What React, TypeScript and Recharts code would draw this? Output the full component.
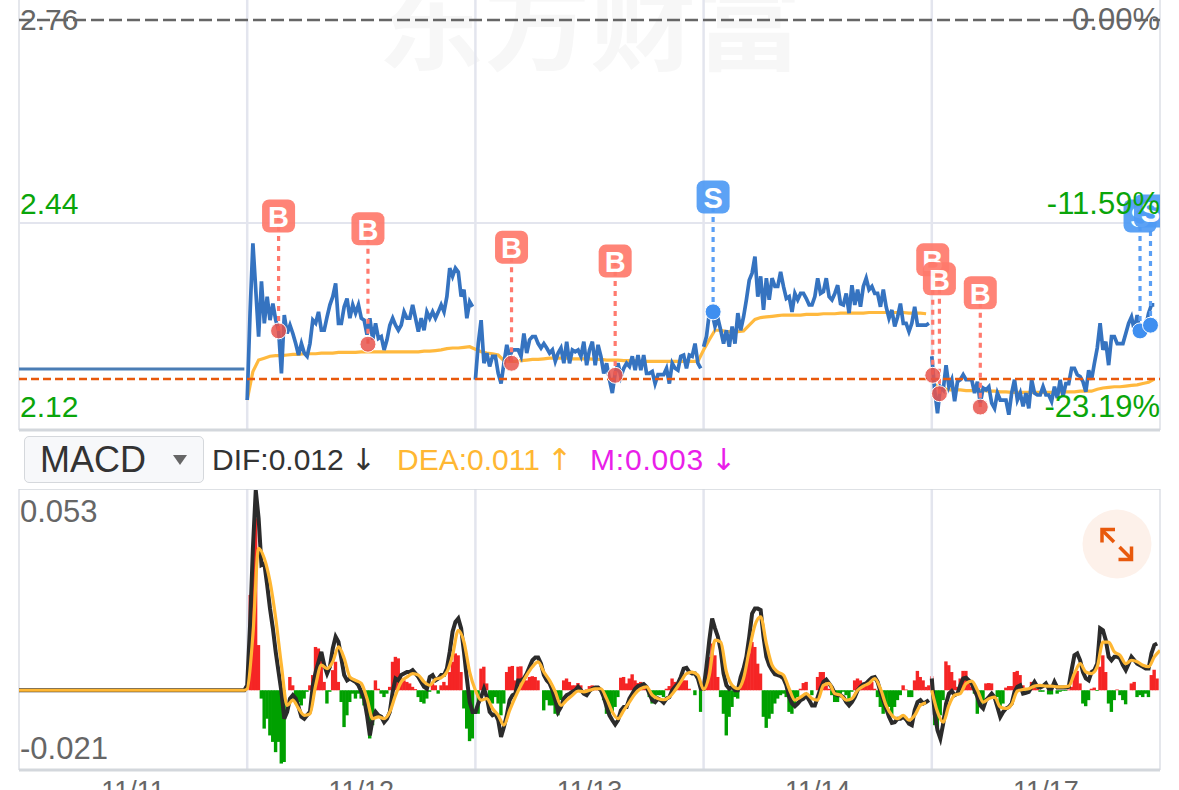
import {
  Bar,
  ComposedChart,
  Line,
  ReferenceLine,
  Scatter,
  XAxis,
  YAxis,
} from 'recharts';

const FONT = '"Liberation Sans", Arial, sans-serif';
const DAY_MINUTES = 240;

const dayLabels = ['11/11', '11/12', '11/13', '11/14', '11/17'];
const dayBreaks = [240, 480, 720, 960];
const dayCenters = [120, 360, 600, 840, 1080];

const priceTicks = [2.76, 2.44, 2.12];
const percentLabels = ['0.00%', '-11.59%', '-23.19%'];
const macdTicks = [0.053, -0.021];
const PREV_CLOSE = 2.194;
const FLAT_DAY_PRICE = 2.21;

// 3 minute samples, one list per trading day
const price1112 = [
  2.161, 2.298, 2.408, 2.335, 2.261, 2.348, 2.282, 2.324, 2.287, 2.313,
  2.287, 2.271, 2.203, 2.295, 2.266, 2.279, 2.266, 2.25, 2.232, 2.25,
  2.235, 2.23, 2.25, 2.287, 2.282, 2.3, 2.271, 2.271, 2.292, 2.311,
  2.324, 2.345, 2.282, 2.282, 2.308, 2.321, 2.29, 2.311, 2.298, 2.311,
  2.29, 2.287, 2.264, 2.29, 2.256, 2.282, 2.258, 2.261, 2.24, 2.256,
  2.279, 2.29, 2.279, 2.271, 2.279, 2.3, 2.29, 2.29, 2.311, 2.29,
  2.269, 2.29, 2.271, 2.3, 2.29, 2.3, 2.29, 2.3, 2.311, 2.3,
  2.324, 2.369, 2.356, 2.369, 2.363, 2.324, 2.335, 2.29, 2.316, 2.308,
];
const price1113 = [
  2.193, 2.25, 2.287, 2.219, 2.235, 2.214, 2.23, 2.23, 2.203, 2.187,
  2.219, 2.248, 2.23, 2.24, 2.24, 2.24, 2.23, 2.266, 2.235, 2.256,
  2.261, 2.261, 2.25, 2.243, 2.25, 2.243, 2.235, 2.24, 2.222, 2.235,
  2.243, 2.219, 2.253, 2.219, 2.24, 2.237, 2.24, 2.23, 2.253, 2.216,
  2.24, 2.253, 2.216, 2.248, 2.23, 2.203, 2.219, 2.193, 2.172, 2.203,
  2.219, 2.198, 2.211, 2.219, 2.214, 2.23, 2.208, 2.232, 2.208, 2.232,
  2.203, 2.203, 2.206, 2.187, 2.201, 2.201, 2.201, 2.211, 2.187, 2.219,
  2.211, 2.208, 2.23, 2.232, 2.211, 2.232, 2.23, 2.25, 2.219, 2.211,
];
const price1114 = [
  2.245, 2.261, 2.298, 2.298, 2.277, 2.29, 2.271, 2.25, 2.271, 2.245,
  2.277, 2.25, 2.298, 2.271, 2.292, 2.319, 2.35, 2.361, 2.387, 2.324,
  2.356, 2.303, 2.353, 2.319, 2.353, 2.34, 2.34, 2.363, 2.34, 2.321,
  2.324, 2.3, 2.329, 2.319, 2.329, 2.329, 2.321, 2.311, 2.311, 2.324,
  2.353, 2.329, 2.332, 2.353, 2.324, 2.319, 2.329, 2.342, 2.313, 2.311,
  2.329, 2.298, 2.342, 2.311, 2.335, 2.308, 2.34, 2.353, 2.335, 2.34,
  2.329, 2.329, 2.308, 2.335, 2.308, 2.29, 2.303, 2.277, 2.292, 2.313,
  2.282, 2.282, 2.269, 2.282, 2.308, 2.279, 2.279, 2.279, 2.279, 2.282,
];
const price1117 = [
  2.23, 2.177, 2.14, 2.182, 2.177, 2.216, 2.182, 2.193, 2.159, 2.19,
  2.193, 2.201, 2.193, 2.193, 2.193, 2.172, 2.19, 2.156, 2.18, 2.177,
  2.182, 2.156, 2.148, 2.172, 2.161, 2.161, 2.161, 2.138, 2.172, 2.193,
  2.161, 2.172, 2.151, 2.172, 2.148, 2.193, 2.172, 2.169, 2.169, 2.182,
  2.169, 2.169, 2.159, 2.182, 2.164, 2.193, 2.167, 2.187, 2.187, 2.211,
  2.211, 2.201, 2.198, 2.19, 2.174, 2.208, 2.193, 2.219, 2.243, 2.282,
  2.24, 2.253, 2.216, 2.261, 2.261, 2.25, 2.25, 2.25, 2.266, 2.282,
  2.292, 2.271, 2.295, 2.266, 2.269, 2.277, 2.298, 2.311, 2.311,
];

// 6 minute samples
const avg1112 = [
  2.161, 2.206, 2.224, 2.227, 2.23, 2.231, 2.231, 2.232, 2.233, 2.233,
  2.234, 2.234, 2.234, 2.235, 2.235, 2.235, 2.236, 2.236, 2.236, 2.236,
  2.237, 2.237, 2.237, 2.237, 2.237, 2.237, 2.237, 2.237, 2.237, 2.237,
  2.237, 2.238, 2.238, 2.239, 2.24, 2.242, 2.243, 2.243, 2.244, 2.245,
];
const avg1113 = [
  2.241, 2.237, 2.235, 2.234, 2.232, 2.223, 2.222, 2.222, 2.223, 2.224,
  2.225, 2.225, 2.226, 2.227, 2.227, 2.227, 2.227, 2.226, 2.226, 2.226,
  2.226, 2.225, 2.225, 2.224, 2.224, 2.224, 2.223, 2.223, 2.223, 2.222,
  2.222, 2.222, 2.222, 2.222, 2.222, 2.222, 2.222, 2.222, 2.222, 2.222,
];
const avg1114 = [
  2.24, 2.256, 2.271, 2.271, 2.269, 2.269, 2.269, 2.27, 2.279, 2.288,
  2.291, 2.292, 2.293, 2.294, 2.295, 2.295, 2.295, 2.295, 2.296, 2.296,
  2.296, 2.297, 2.297, 2.297, 2.298, 2.298, 2.298, 2.298, 2.298, 2.299,
  2.299, 2.299, 2.299, 2.299, 2.299, 2.299, 2.298, 2.298, 2.298, 2.297,
];
const avg1117 = [
  2.19, 2.182, 2.179, 2.177, 2.177, 2.177, 2.176, 2.176, 2.176, 2.176,
  2.175, 2.175, 2.174, 2.174, 2.173, 2.173, 2.173, 2.173, 2.173, 2.173,
  2.173, 2.173, 2.174, 2.174, 2.174, 2.174, 2.175, 2.175, 2.175, 2.178,
  2.18, 2.181, 2.182, 2.182, 2.183, 2.184, 2.185, 2.187, 2.189, 2.194,
];

const dif1112 = [
  0.0013, 0.0171, 0.0374, 0.0527, 0.0453, 0.033, 0.0334, 0.0277, 0.0215, 0.0163,
  0.0101, 0.0048, -0.0004, -0.0075, -0.0057, -0.0022, -0.0013, -0.0022, -0.0044, -0.007,
  -0.0075, -0.0066, -0.0057, 0.0013, 0.0048, 0.0075, 0.0101, 0.0066, 0.0044, 0.0062,
  0.011, 0.0141, 0.0127, 0.0084, 0.004, 0.0026, 0.0031, 0.0026, 0.0022, 0.0013,
  -0.0004, -0.0022, -0.0066, -0.0119, -0.0075, -0.0057, -0.0066, -0.007, -0.0084, -0.0075,
  -0.0057, -0.0004, 0.0031, 0.0026, 0.004, 0.0044, 0.0048, 0.0048, 0.0053, 0.0044,
  0.0035, 0.0022, 0.0009, 0.0004, 0.0035, 0.004, 0.0026, 0.0031, 0.004, 0.004,
  0.0057, 0.0101, 0.0154, 0.018, 0.0189, 0.0163, 0.0101, 0.0031, -0.0031, -0.0057,
];
const dif1113 = [
  -0.0057, -0.0035, -0.0018, 0.0004, -0.0018, -0.0057, -0.0066, -0.0062, -0.0079, -0.0123,
  -0.0097, -0.0066, -0.0026, -0.0013, -0.0009, 0.0026, 0.0026, 0.0031, 0.0044, 0.0062,
  0.0079, 0.0086, 0.0086, 0.007, 0.004, 0.0026, 0.0018, 0, -0.0026, -0.0057,
  -0.0044, -0.0022, -0.0013, -0.0009, -0.0004, 0, 0.0009, 0, -0.0009, -0.0013,
  -0.0002, 0.0004, 0.0007, 0.0007, 0, -0.0018, -0.0044, -0.0066, -0.0079, -0.009,
  -0.0079, -0.0053, -0.0044, -0.0044, -0.0022, -0.0009, 0.0004, 0.0011, 0.0013, 0.0016,
  0.0009, -0.0009, -0.0026, -0.0031, -0.0022, -0.0026, -0.0033, -0.0022, -0.0018, 0,
  0.0009, 0.0018, 0.0035, 0.0057, 0.0059, 0.0048, 0.0044, 0.0044, 0.0031, 0.0004,
];
const dif1114 = [
  0.0004, 0.0062, 0.0132, 0.0189, 0.0163, 0.0141, 0.0105, 0.0044, 0.0013, 0.0004,
  0.0009, 0, 0, 0.0035, 0.0057, 0.0088, 0.0141, 0.0202, 0.0215, 0.0215,
  0.0211, 0.0141, 0.0088, 0.0066, 0.0053, 0.0042, 0.004, 0.0037, 0.0031, 0.0013,
  -0.0018, -0.0035, -0.0042, -0.0035, -0.0026, -0.0022, -0.0013, -0.0026, -0.004, -0.004,
  -0.0018, 0.0004, 0.0022, 0.0028, 0.0018, 0.0007, -0.0009, -0.0013, -0.0013, -0.0018,
  -0.0031, -0.004, -0.0031, -0.0018, 0, 0.0009, 0.0016, 0.0018, 0.0026, 0.0033,
  0.0035, 0.0022, -0.0004, -0.0026, -0.0048, -0.007, -0.0086, -0.0084, -0.0075, -0.0075,
  -0.007, -0.0077, -0.0088, -0.0092, -0.0053, -0.0031, -0.0026, -0.0035, -0.0031, -0.0026,
];
const dif1117 = [
  0.0031, -0.0062, -0.0105, -0.0127, -0.0088, -0.0035, -0.0009, -0.0002, -0.0013, -0.0009,
  0.0013, 0.0031, 0.0033, 0.0026, 0.0018, 0, -0.0018, -0.004, -0.0048, -0.0026,
  -0.0018, -0.0009, -0.0018, -0.0044, -0.007, -0.0057, -0.0048, -0.0044, -0.0035, -0.0004,
  0.0009, 0.0013, -0.0009, -0.0007, -0.0004, 0.0009, 0.0022, 0.0009, 0.0007, 0.0011,
  0.0018, 0.0004, 0.0004, 0.0022, 0.0007, 0.0007, 0.0007, 0.0007, 0.0009, 0.0053,
  0.0092, 0.0097, 0.0079, 0.0048, 0.0031, 0.0026, 0.0048, 0.0053, 0.007, 0.0163,
  0.0158, 0.0132, 0.0088, 0.0079, 0.0088, 0.0088, 0.0084, 0.0066, 0.0053, 0.007,
  0.0088, 0.0079, 0.007, 0.0066, 0.0062, 0.0057, 0.0057, 0.0097, 0.0119, 0.0123,
];

// 6 minute samples
const dea1112 = [
  0.0004, 0.0145, 0.0374, 0.0347, 0.0286, 0.0189, 0.0066, -0.004, -0.0026, -0.0048,
  -0.0066, -0.0062, 0.0013, 0.0066, 0.0057, 0.0075, 0.0114, 0.0084, 0.0035, 0.0026,
  0.0018, -0.0022, -0.0075, -0.007, -0.0075, -0.0057, -0.0013, 0.0022, 0.0035, 0.0044,
  0.004, 0.0022, 0.0013, 0.0029, 0.0033, 0.0048, 0.0092, 0.0158, 0.0127, 0.0048,
];
const dea1113 = [
  0, -0.0026, -0.0022, -0.0048, -0.0066, -0.0092, -0.0053, -0.0018, 0.0013, 0.004,
  0.0062, 0.0075, 0.0048, 0.0026, -0.0004, -0.004, -0.0026, -0.0013, -0.0002, -0.0004,
  0, 0.0004, 0.0004, -0.0022, -0.0057, -0.0075, -0.0053, -0.0031, -0.0009, 0.0004,
  0.0009, -0.0013, -0.0022, -0.0025, -0.0018, 0, 0.0022, 0.0044, 0.0048, 0.004,
];
const dea1114 = [
  0.0002, 0.004, 0.0132, 0.0127, 0.0048, 0.0013, 0.0004, 0.0031, 0.0105, 0.0171,
  0.0193, 0.0123, 0.0066, 0.0048, 0.004, 0.0004, -0.0026, -0.0018, -0.0009, -0.0022,
  -0.0026, 0.0013, 0.0018, -0.0009, -0.0013, -0.0026, -0.0022, 0, 0.0011, 0.0018,
  0.0031, 0.0004, -0.004, -0.0066, -0.0075, -0.0066, -0.0079, -0.0066, -0.004, -0.0033,
];
const dea1117 = [
  0, -0.0057, -0.0084, -0.004, -0.0013, -0.0009, 0.0018, 0.0024, 0, -0.0031,
  -0.0022, -0.0018, -0.0044, -0.0048, -0.0037, -0.0002, 0.0002, 0.0004, 0.0011, 0.0013,
  0.0011, 0.0011, 0.0009, 0.0009, 0.0011, 0.0044, 0.007, 0.0048, 0.0044, 0.0062,
  0.0127, 0.0127, 0.0101, 0.0092, 0.007, 0.0079, 0.0075, 0.0066, 0.0062, 0.0088, 0.0105,
];

const m1112 = [
  0, 0.0251, 0.0365, 0.0453, 0.0119, -0.0022, -0.0101, -0.0075, -0.0119, -0.0136,
  -0.0163, -0.0136, -0.0193, -0.0189, 0, 0.0035, 0.0013, -0.0022, -0.0031, -0.004,
  -0.0022, -0.0004, 0.0013, 0.004, 0.0114, 0.011, 0.0084, 0.0022, -0.0035, -0.0004,
  0.0053, 0.0075, 0.0022, -0.0031, -0.0097, -0.0066, -0.0031, -0.0009, -0.0022, -0.0009,
  -0.0022, -0.004, -0.0066, -0.0127, -0.0092, 0.0026, 0.0004, -0.0009, -0.0018, -0.0009,
  0.0009, 0.0075, 0.0088, 0.0084, 0.0031, 0.0026, 0.0022, 0.0018, 0.0009, 0.0003,
  -0.0018, -0.0031, -0.0035, -0.0022, -0.0004, 0.0018, 0.0013, -0.0009, 0.0013, 0.0022,
  0.0013, 0.0048, 0.0075, 0.0097, 0.0092, 0.0048, -0.0048, -0.0101, -0.0134, -0.0127,
];
const m1113 = [
  -0.0062, -0.0062, 0.0057, 0.0062, 0.0018, -0.0044, -0.0035, -0.0018, -0.0035, -0.0066,
  -0.0035, 0.0048, 0.0062, 0.0064, 0.0026, 0.0062, 0.0063, 0.0026, 0.0026, 0.0035,
  0.0037, 0.0035, 0.0026, 0, -0.0053, -0.0026, -0.004, -0.004, -0.0062, -0.0066,
  -0.0026, 0.0026, 0.0031, 0.0022, 0.0013, 0.0013, 0.0019, 0.0013, 0, 0.0002,
  0.0011, 0.0013, 0.0011, 0.0011, 0, -0.0026, -0.0062, -0.0062, -0.0057, -0.0044,
  -0.0018, 0.0033, 0.0035, 0.0018, 0.0031, 0.0042, 0.0026, 0.0019, 0.0022, 0.0018,
  0.0004, -0.0018, -0.0035, -0.0022, -0.0013, -0.0013, -0.0018, 0.0004, 0.0011, 0.0031,
  0.0022, 0.0018, 0.0026, 0.0026, 0.0026, 0.0004, 0, -0.0013, 0, -0.0057,
];
const m1114 = [
  0, 0.007, 0.0088, 0.0123, 0.0092, 0.0035, -0.0018, -0.0062, -0.0119, -0.007,
  -0.0044, -0.0018, -0.0022, 0.0018, 0.004, 0.007, 0.0097, 0.0127, 0.0114, 0.007,
  0.0044, -0.007, -0.0099, -0.0075, -0.0062, -0.0035, -0.0022, -0.0013, -0.0009, -0.0018,
  -0.0057, -0.0062, -0.0044, -0.0018, 0.0004, 0.0019, 0.0022, 0, -0.0013, 0,
  0.0035, 0.0048, 0.0048, 0.0013, 0.0004, -0.0013, -0.0031, -0.0031, -0.0009, -0.0004,
  -0.0013, -0.0035, -0.0004, 0.0026, 0.0031, 0.0026, 0.0018, 0.0013, 0.0018, 0.0022,
  0.0004, -0.0018, -0.0044, -0.0062, -0.0044, -0.0044, -0.0066, -0.0044, -0.0026, -0.0013,
  0.0013, 0.0002, -0.0018, -0.0018, 0.0026, 0.0051, 0.0035, 0.0026, 0.0009, 0.0013,
];
const m1117 = [
  0.0037, -0.0092, -0.0097, -0.0066, -0.0026, 0.0076, 0.0066, 0.0048, 0.0026, 0.0009,
  0.0031, 0.0051, 0.0051, 0.0026, 0.0009, -0.0009, -0.0062, -0.0044, -0.0035, 0.0018,
  0.0019, 0.0018, 0, -0.0018, -0.0044, -0.0035, 0.0007, 0.0011, 0.0011, 0.0048,
  0.0051, 0.004, 0.0013, -0.0002, 0.0004, 0.0022, 0.0013, 0.0004, -0.0004, -0.0004,
  0, -0.0011, -0.0011, 0, -0.0009, -0.0004, -0.0002, -0.0002, 0.0002, 0.0009,
  0.0044, 0.0051, 0.0018, -0.0035, -0.0042, -0.0026, 0.0004, 0.0007, -0.0002, 0.0062,
  0.0092, 0.0048, -0.0035, -0.0057, -0.0026, 0.0002, -0.0013, -0.0026, -0.0037, 0,
  0.0018, 0.0022, -0.0018, -0.0013, -0.0018, -0.0009, -0.0018, 0.004, 0.0054, 0.0031,
];

const buyMinutes = [273, 367, 518, 627, 961, 968, 1011];
const buyPrices = [2.27, 2.249, 2.219, 2.2, 2.2, 2.171, 2.15];
const buyFlagPrices = [2.451, 2.431, 2.402, 2.38, 2.382, 2.352, 2.33];
const sellMinutes = [730, 1179, 1190];
const sellPrices = [2.3, 2.27, 2.279];
const sellFlagPrices = [2.481, 2.451, 2.459];

type Row = Record<string, number>;

// firstDay counts from 11/11 = 0
function fillDay(rows: Record<number, Row>, key: string, firstDay: number, values: number[], step: number) {
  values.forEach((value, i) => {
    const minute = DAY_MINUTES * firstDay + i * step;
    rows[minute] = rows[minute] || { minute };
    rows[minute][key] = value;
  });
}

const priceRowsByMinute: Record<number, Row> = {
  0: { minute: 0, flat: FLAT_DAY_PRICE },
  237: { minute: 237, flat: FLAT_DAY_PRICE },
};
// each session is its own line, the price gaps between sessions stay open
const priceKeys = ['price1', 'price2', 'price3', 'price4'];
[price1112, price1113, price1114, price1117].forEach((values, d) =>
  fillDay(priceRowsByMinute, priceKeys[d], d + 1, values, 3)
);
[avg1112, avg1113, avg1114].forEach((values, d) => fillDay(priceRowsByMinute, 'avg', d + 1, values, 6));
fillDay(priceRowsByMinute, 'avgLast', 4, avg1117, 6);
const priceRows = Object.values(priceRowsByMinute);

const macdRowsByMinute: Record<number, Row> = {
  0: { minute: 0, dif: 0, dea: 0 },
  237: { minute: 237, dif: 0, dea: 0 },
};
[dif1112, dif1113, dif1114].forEach((values, d) => fillDay(macdRowsByMinute, 'dif', d + 1, values, 3));
fillDay(macdRowsByMinute, 'difLast', 4, dif1117, 3);
[dea1112, dea1113, dea1114].forEach((values, d) => fillDay(macdRowsByMinute, 'dea', d + 1, values, 6));
fillDay(macdRowsByMinute, 'deaLast', 4, dea1117, 6);
[m1112, m1113, m1114, m1117].forEach((values, d) => fillDay(macdRowsByMinute, 'm', d + 1, values, 3));
const macdRows = Object.values(macdRowsByMinute);

const tradeRows = (minutes: number[], values: number[]) =>
  minutes.map((minute, i) => ({ minute, price: values[i] }));

const makeDot = (fill: string) => (props: any) => (
  <circle cx={props.cx} cy={props.cy} r={8} fill={fill} stroke="#fff" strokeWidth={1} />
);

const makeFlag = (letter: string, fill: string) => (props: any) => (
  <g opacity={0.92}>
    <rect x={props.cx - 16.5} y={props.cy - 16.5} width={33} height={33} rx={7} fill={fill} />
    <text
      x={props.cx}
      y={props.cy + 1}
      textAnchor="middle"
      dominantBaseline="central"
      fontFamily={FONT}
      fontSize={29}
      fontWeight={700}
      fill="#fff"
    >
      {letter}
    </text>
  </g>
);

// recharts shrinks bars on a number axis, so the histogram gets its own width to close the gaps
const macdBar = (props: any) => {
  const { x, y, width, height, payload } = props;
  const barWidth = 3.4;
  return (
    <rect
      x={x + width / 2 - barWidth / 2}
      y={Math.min(y, y + height)}
      width={barWidth}
      height={Math.abs(height)}
      fill={payload.m >= 0 ? '#f52525' : '#00a000'}
    />
  );
};

const leftPriceTick = (props: any) => {
  const i = priceTicks.indexOf(props.payload.value);
  return (
    <text
      x={20}
      y={props.y + (i === 0 ? 0 : -20)}
      dominantBaseline="central"
      fontFamily={FONT}
      fontSize={30}
      fill={i === 0 ? '#666' : '#0aa50a'}
    >
      {props.payload.value.toFixed(2)}
    </text>
  );
};

const rightPriceTick = (props: any) => {
  const i = priceTicks.indexOf(props.payload.value);
  return (
    <text
      x={1160}
      y={props.y + (i === 0 ? 0 : -20)}
      textAnchor="end"
      dominantBaseline="central"
      fontFamily={FONT}
      fontSize={31}
      fill={i === 0 ? '#666' : '#0aa50a'}
    >
      {percentLabels[i]}
    </text>
  );
};

const macdTick = (props: any) => (
  <text
    x={20}
    y={props.y + (props.payload.value > 0 ? 22 : -22)}
    dominantBaseline="central"
    fontFamily={FONT}
    fontSize={31}
    fill="#666"
  >
    {props.payload.value}
  </text>
);

function PriceChart() {
  return (
    <ComposedChart
      width={1179}
      height={432}
      data={priceRows}
      margin={{ top: 0, right: 19, bottom: 2, left: 19 }}
    >
      <XAxis dataKey="minute" type="number" domain={[0, 1200]} hide allowDataOverflow />
      <YAxis
        yAxisId="left"
        domain={[2.1138, 2.7915]}
        ticks={priceTicks}
        interval={0}
        mirror
        axisLine={false}
        tickLine={false}
        tick={leftPriceTick}
        allowDataOverflow
      />
      <YAxis
        yAxisId="right"
        orientation="right"
        domain={[2.1138, 2.7915]}
        ticks={priceTicks}
        interval={0}
        mirror
        axisLine={false}
        tickLine={false}
        tick={rightPriceTick}
        allowDataOverflow
      />
      {dayBreaks.map((x) => (
        <ReferenceLine key={x} yAxisId="left" x={x} stroke="#e3e5ee" strokeWidth={2.5} />
      ))}
      <ReferenceLine yAxisId="left" x={0} stroke="#dcdfe6" strokeWidth={1.5} />
      <ReferenceLine yAxisId="left" x={1200} stroke="#dcdfe6" strokeWidth={1.5} />
      <ReferenceLine yAxisId="left" y={2.44} stroke="#e3e5ee" strokeWidth={2} />
      <ReferenceLine yAxisId="left" y={2.1138} stroke="#d3d7dc" strokeWidth={3} />
      <ReferenceLine yAxisId="left" y={2.76} stroke="#666" strokeWidth={2.5} strokeDasharray="13 5" />
      <Line yAxisId="left" dataKey="flat" stroke="#4a7db5" strokeWidth={3} dot={false} isAnimationActive={false} />
      <Line yAxisId="left" dataKey="avg" stroke="#ffb93e" strokeWidth={3.2} dot={false} connectNulls isAnimationActive={false} />
      <Line yAxisId="left" dataKey="avgLast" stroke="#ffb93e" strokeWidth={3.2} dot={false} connectNulls isAnimationActive={false} />
      {priceKeys.map((key) => (
        <Line key={key} yAxisId="left" dataKey={key} stroke="#3573c0" strokeWidth={3.7} strokeLinejoin="miter" dot={false} connectNulls isAnimationActive={false} />
      ))}
      <ReferenceLine yAxisId="left" y={PREV_CLOSE} stroke="#e8590c" strokeWidth={2.5} strokeDasharray="8 4" />
      {buyMinutes.map((x, i) => (
        <ReferenceLine
          key={x}
          yAxisId="left"
          segment={[{ x, y: buyFlagPrices[i] }, { x, y: buyPrices[i] }]}
          stroke="#ff7a6e"
          strokeWidth={3.2}
          strokeDasharray="5 5"
        />
      ))}
      {sellMinutes.map((x, i) => (
        <ReferenceLine
          key={x}
          yAxisId="left"
          segment={[{ x, y: sellFlagPrices[i] }, { x, y: sellPrices[i] }]}
          stroke="#5a9ff5"
          strokeWidth={3.2}
          strokeDasharray="5 5"
        />
      ))}
      <Scatter yAxisId="left" data={tradeRows(buyMinutes, buyPrices)} dataKey="price" shape={makeDot('rgba(232,84,76,0.85)')} isAnimationActive={false} />
      <Scatter yAxisId="left" data={tradeRows(sellMinutes, sellPrices)} dataKey="price" shape={makeDot('#3f8ff0')} isAnimationActive={false} />
      <Scatter yAxisId="left" data={tradeRows(buyMinutes, buyFlagPrices)} dataKey="price" shape={makeFlag('B', '#ff7a6c')} isAnimationActive={false} />
      <Scatter yAxisId="left" data={tradeRows(sellMinutes, sellFlagPrices)} dataKey="price" shape={makeFlag('S', '#4f9bf5')} isAnimationActive={false} />
    </ComposedChart>
  );
}

function MacdChart() {
  return (
    <ComposedChart
      width={1179}
      height={341}
      data={macdRows}
      margin={{ top: 0, right: 19, bottom: 0, left: 19 }}
    >
      <XAxis
        dataKey="minute"
        type="number"
        domain={[0, 1200]}
        ticks={dayCenters}
        interval={0}
        height={60}
        axisLine={false}
        tickLine={false}
        tickSize={0}
        tickMargin={11}
        tick={{ fontSize: 27, fontFamily: FONT, fill: '#666' }}
        tickFormatter={(m: number) => dayLabels[dayCenters.indexOf(m)]}
        allowDataOverflow
      />
      <YAxis
        domain={[-0.021, 0.053]}
        ticks={macdTicks}
        interval={0}
        mirror
        axisLine={false}
        tickLine={false}
        tick={macdTick}
        allowDataOverflow
      />
      {dayBreaks.map((x) => (
        <ReferenceLine key={x} x={x} stroke="#e3e5ee" strokeWidth={2.5} />
      ))}
      <ReferenceLine x={0} stroke="#dcdfe6" strokeWidth={1.5} />
      <ReferenceLine x={1200} stroke="#dcdfe6" strokeWidth={1.5} />
      <ReferenceLine y={0.053} stroke="#d3d7dc" strokeWidth={1.5} />
      <ReferenceLine y={-0.021} stroke="#d3d7dc" strokeWidth={3} />
      <Bar dataKey="m" shape={macdBar} isAnimationActive={false} />
      <Line dataKey="dif" stroke="#2b2b2b" strokeWidth={4} dot={false} connectNulls isAnimationActive={false} />
      <Line dataKey="difLast" stroke="#2b2b2b" strokeWidth={4} dot={false} connectNulls isAnimationActive={false} />
      <Line dataKey="dea" type="monotone" stroke="#ffb733" strokeWidth={3.2} dot={false} connectNulls isAnimationActive={false} />
      <Line dataKey="deaLast" type="monotone" stroke="#ffb733" strokeWidth={3.2} dot={false} connectNulls isAnimationActive={false} />
    </ComposedChart>
  );
}

const statusStyle = {
  position: 'absolute' as const,
  top: 442,
  fontSize: 30,
  lineHeight: '36px',
  whiteSpace: 'nowrap' as const,
};

const arrowStyle = {
  fontFamily: '"DejaVu Sans", sans-serif',
  fontSize: 30,
  marginLeft: 7,
};

export default function App() {
  return (
    <div
      style={{
        position: 'absolute',
        left: 0,
        top: 0,
        width: 1179,
        height: 790,
        overflow: 'hidden',
        background: '#fff',
        fontFamily: FONT,
      }}
    >
      <div
        style={{
          position: 'absolute',
          left: 378,
          top: -37,
          fontSize: 106,
          lineHeight: '106px',
          fontWeight: 700,
          fontFamily: '"Noto Sans CJK SC", sans-serif',
          color: '#f7f7f7',
          whiteSpace: 'nowrap',
        }}
      >
        东方财富
      </div>
      <div style={{ position: 'absolute', left: 0, top: 0 }}>
        <PriceChart />
      </div>

      <div
        style={{
          position: 'absolute',
          left: 24,
          top: 436,
          width: 178,
          height: 45,
          background: '#f7f8fa',
          border: '1px solid #d5d8dc',
          borderRadius: 5,
        }}
      >
        <span style={{ position: 'absolute', left: 15, top: 2, fontSize: 36, lineHeight: '42px', color: '#333' }}>
          MACD
        </span>
        <span
          style={{
            position: 'absolute',
            left: 148,
            top: 18,
            borderLeft: '7px solid transparent',
            borderRight: '7px solid transparent',
            borderTop: '10px solid #666',
          }}
        />
      </div>
      <span style={{ ...statusStyle, left: 212, color: '#333' }}>
        DIF:0.012<span style={arrowStyle}>↓</span>
      </span>
      <span style={{ ...statusStyle, left: 397, color: '#ffb733' }}>
        DEA:0.011<span style={arrowStyle}>↑</span>
      </span>
      <span style={{ ...statusStyle, left: 590, color: '#e91ee9', letterSpacing: 0.8 }}>
        M:0.003<span style={arrowStyle}>↓</span>
      </span>

      <div style={{ position: 'absolute', left: 0, top: 489 }}>
        <MacdChart />
      </div>

      <svg
        width={70}
        height={70}
        viewBox="1082 509 70 70"
        style={{ position: 'absolute', left: 1082, top: 509 }}
      >
        <circle cx={1117} cy={544} r={34.5} fill="#fdf1ea" />
        <g fill="none" stroke="#e8590c" strokeWidth={3.5}>
          <path d="M1115 529.5H1102V542.5" />
          <path d="M1102.5 530.5L1114 542" />
          <path d="M1118.5 559.5H1131.5V546.5" />
          <path d="M1131 558.5L1119.5 547" />
        </g>
      </svg>
    </div>
  );
}
